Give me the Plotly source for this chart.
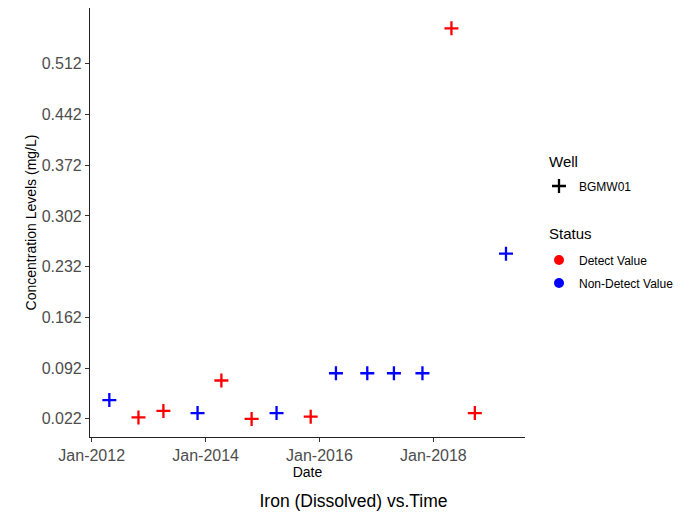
import plotly.graph_objects as go

dates = ["2012-04-23", "2012-10-27", "2013-04-05", "2013-11-10", "2014-04-12",
         "2014-10-23", "2015-04-01", "2015-11-06", "2016-04-16", "2016-11-03",
         "2017-04-23", "2017-10-23", "2018-04-27", "2018-09-24", "2019-04-12"]
values = [0.048, 0.024, 0.033, 0.030, 0.075,
          0.022, 0.030, 0.025, 0.085, 0.085,
          0.085, 0.085, 0.561, 0.030, 0.250]
status = ["Non-Detect Value", "Detect Value", "Detect Value", "Non-Detect Value", "Detect Value",
          "Detect Value", "Non-Detect Value", "Detect Value", "Non-Detect Value", "Non-Detect Value",
          "Non-Detect Value", "Non-Detect Value", "Detect Value", "Detect Value", "Non-Detect Value"]
status_colors = {"Detect Value": "#FF0000", "Non-Detect Value": "#0000FF"}
well_name = "BGMW01"

y_ticks = [0.022, 0.092, 0.162, 0.232, 0.302, 0.372, 0.442, 0.512]
x_ticks = ["2012-01-01", "2014-01-01", "2016-01-01", "2018-01-01"]
x_ticktext = ["Jan-2012", "Jan-2014", "Jan-2016", "Jan-2018"]

FONT = "Liberation Sans, Arial, sans-serif"

# page body has an 8px margin, so the figure is sized to the remaining window
W, H = 691, 508
ML, MR, MT, MB = 82, 174, 0, 79
PW, PH = W - ML - MR, H - MT - MB


def px_x(x):  # figure pixel -> paper x
    return (x - ML) / PW


def px_y(y):  # figure pixel -> paper y
    return (MT + PH - y) / PH


fig = go.Figure()

cols = [status_colors[s] for s in status]
fig.add_trace(go.Scatter(
    x=dates, y=values, mode="markers", showlegend=False,
    marker=dict(symbol="cross-thin", size=10, color=cols, line=dict(width=2.3, color=cols)),
    hoverinfo="x+y",
))

fig.add_trace(go.Scatter(
    x=[None], y=[None], mode="markers", name=well_name, legend="legend",
    marker=dict(symbol="cross-thin", size=10, color="black", line=dict(width=2.3, color="black")),
))
fig.add_trace(go.Scatter(
    x=[None], y=[None], mode="markers", name="Detect Value", legend="legend2",
    marker=dict(symbol="circle", size=10, color=status_colors["Detect Value"]),
))
fig.add_trace(go.Scatter(
    x=[None], y=[None], mode="markers", name="Non-Detect Value", legend="legend3",
    marker=dict(symbol="circle", size=10, color=status_colors["Non-Detect Value"]),
))

axis_common = dict(
    showgrid=False, zeroline=False, showline=True, linecolor="#222222", linewidth=1.2,
    ticks="outside", ticklen=4, tickwidth=1.1, tickcolor="#333333",
    tickfont=dict(family=FONT, size=16, color="#4D4D4D"),
    title_font=dict(family=FONT, size=14, color="black"),
)

leg_common = dict(xanchor="left", yanchor="middle", bgcolor="rgba(0,0,0,0)",
                  font=dict(family=FONT, size=12, color="black"))
leg_x = px_x(531)

fig.update_layout(
    width=W, height=H,
    paper_bgcolor="white", plot_bgcolor="white",
    margin=dict(l=ML, r=MR, t=MT, b=MB),
    font=dict(family=FONT),
    title=dict(text="Iron (Dissolved) vs.Time", x=0.5, xref="container", xanchor="center",
               y=(H - 493) / H, yref="container", yanchor="middle",
               font=dict(family=FONT, size=17.5, color="black")),
    xaxis=dict(axis_common, type="date", range=["2011-12-21", "2019-08-12"],
               tickvals=x_ticks, ticktext=x_ticktext,
               title=dict(text="Date", standoff=1)),
    yaxis=dict(axis_common, range=[-0.003, 0.589], tickvals=y_ticks,
               ticktext=[f"{v:.3f}" for v in y_ticks],
               title=dict(text="Concentration Levels (mg/L)", standoff=1)),
    legend=dict(leg_common, x=leg_x, y=px_y(178)),
    legend2=dict(leg_common, x=leg_x, y=px_y(252)),
    legend3=dict(leg_common, x=leg_x, y=px_y(275)),
    annotations=[
        dict(text="Well", x=px_x(539), y=px_y(153), xref="paper", yref="paper",
             xanchor="left", yanchor="middle", showarrow=False,
             font=dict(family=FONT, size=15, color="black")),
        dict(text="Status", x=px_x(539), y=px_y(226), xref="paper", yref="paper",
             xanchor="left", yanchor="middle", showarrow=False,
             font=dict(family=FONT, size=15, color="black")),
    ],
)

fig.write_html("out.html")
